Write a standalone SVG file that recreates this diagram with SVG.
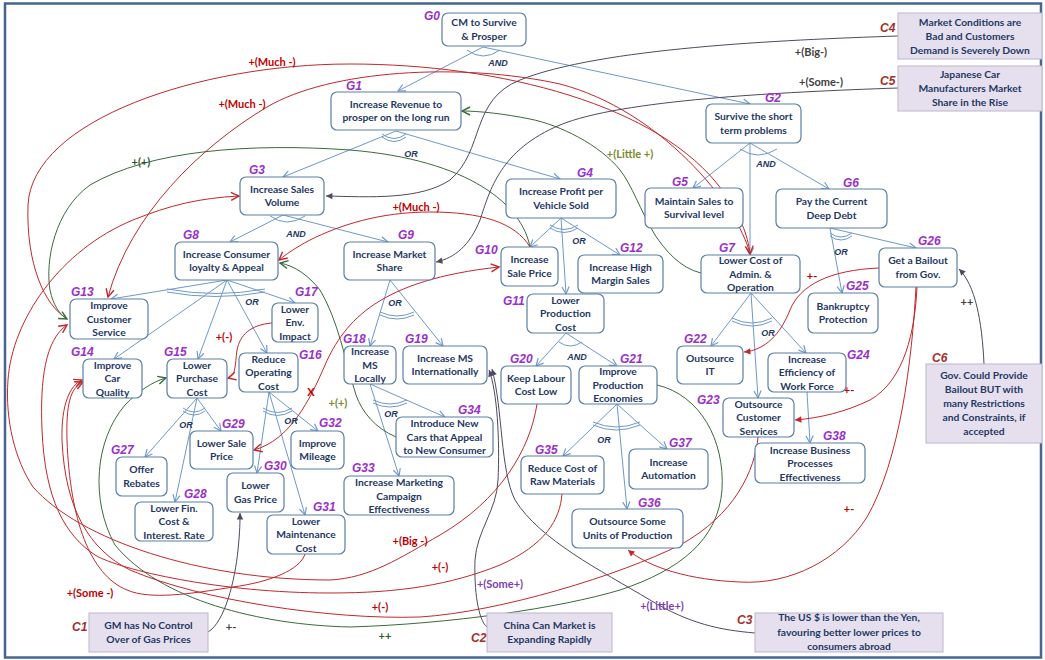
<svg xmlns="http://www.w3.org/2000/svg" width="1045" height="660" viewBox="0 0 1045 660">
<defs>
<style>
.box{fill:#fff;stroke:#5b7fa6;stroke-width:1.2}
.ctx{fill:#e6e0ee;stroke:#bdb6cb;stroke-width:1}
.t{font-family:Lato,"Liberation Sans",sans-serif;font-weight:bold;font-size:10.3px;fill:#1f3864;text-anchor:middle}
.gid{font-family:"Liberation Sans",sans-serif;font-weight:bold;font-style:italic;font-size:12px;fill:#9b2fc9}
.cid{font-family:"Liberation Sans",sans-serif;font-weight:bold;font-style:italic;font-size:12px;fill:#a3302b}
.op{font-family:"Liberation Sans",sans-serif;font-weight:bold;font-style:italic;font-size:9px;fill:#1f3864;text-anchor:middle}
.ref{fill:none;stroke:#6f98c9;stroke-width:1}
.red{fill:none;stroke:#c2282b;stroke-width:1}
.grn{fill:none;stroke:#3b6a3b;stroke-width:1}
.gry{fill:none;stroke:#4e4a5f;stroke-width:1}
.lb{font-family:Lato,"Liberation Sans",sans-serif;font-weight:bold;font-size:11px;text-anchor:middle}
.lr{fill:#c00000}
.lg{fill:#2f5a2f}
.lo{fill:#7a8a2a}
.lk{fill:#404040}
.lp{fill:#7b3fb0}
</style>
<marker id="aB" viewBox="0 0 10 10" refX="9" refY="5" markerWidth="9" markerHeight="9" markerUnits="userSpaceOnUse" orient="auto"><path d="M1,1 L9,5 L1,9" fill="none" stroke="#6f98c9" stroke-width="1.3"/></marker>
<marker id="aR" viewBox="0 0 10 10" refX="9" refY="5" markerWidth="10" markerHeight="10" markerUnits="userSpaceOnUse" orient="auto"><path d="M1,1 L9,5 L1,9" fill="none" stroke="#c2282b" stroke-width="1.4"/></marker>
<marker id="aRs" viewBox="0 0 10 10" refX="1" refY="5" markerWidth="10" markerHeight="10" markerUnits="userSpaceOnUse" orient="auto"><path d="M9,1 L1,5 L9,9" fill="none" stroke="#c2282b" stroke-width="1.4"/></marker>
<marker id="aRf" viewBox="0 0 10 10" refX="9" refY="5" markerWidth="8" markerHeight="8" markerUnits="userSpaceOnUse" orient="auto"><path d="M1,1 L9,5 L1,9 Z" fill="#c2282b"/></marker>
<marker id="aG" viewBox="0 0 10 10" refX="9" refY="5" markerWidth="10" markerHeight="10" markerUnits="userSpaceOnUse" orient="auto"><path d="M1,1 L9,5 L1,9" fill="none" stroke="#3b6a3b" stroke-width="1.4"/></marker>
<marker id="aK" viewBox="0 0 10 10" refX="9" refY="5" markerWidth="8" markerHeight="8" markerUnits="userSpaceOnUse" orient="auto"><path d="M1,1 L9,5 L1,9 Z" fill="#4e4a5f"/></marker>
</defs>
<rect x="0" y="0" width="1045" height="660" fill="#fff"/>
<rect x="5" y="3.5" width="1036" height="654" fill="none" stroke="#466690" stroke-width="2.5"/>

<!-- decomposition links -->
<g id="refinements" class="ref">
<path d="M483,47 L398,91" marker-end="url(#aB)"/>
<path d="M483,47 L750,104" marker-end="url(#aB)"/>
<path d="M467,50 Q483,62 500,50"/>
<path d="M396,131 L283,177" marker-end="url(#aB)"/>
<path d="M396,131 L560,179" marker-end="url(#aB)"/>
<path d="M382,134 Q394,143 406,134"/><path d="M382,137 Q394,146 406,137"/>
<path d="M750,143 L693,188" marker-end="url(#aB)"/>
<path d="M750,143 L829,189" marker-end="url(#aB)"/>
<path d="M750,143 L750,255" marker-end="url(#aB)"/>
<path d="M740,149 Q758,161 777,149"/>
<path d="M283,215 L230,242" marker-end="url(#aB)"/>
<path d="M283,215 L388,242" marker-end="url(#aB)"/>
<path d="M270,216 Q287,228 305,216"/>
<path d="M561,218 L530,247" marker-end="url(#aB)"/>
<path d="M561,218 L566,294" marker-end="url(#aB)"/>
<path d="M561,218 L620,255" marker-end="url(#aB)"/>
<path d="M550,225 Q564,234 578,225"/><path d="M550,228 Q564,237 578,228"/>
<path d="M830,228 L842,293" marker-end="url(#aB)"/>
<path d="M830,228 L916,248" marker-end="url(#aB)"/>
<path d="M830,233 Q841,241 852,233"/><path d="M830,236 Q841,244 852,236"/>
<path d="M751,293 L711,346" marker-end="url(#aB)"/>
<path d="M751,293 L758,398" marker-end="url(#aB)"/>
<path d="M751,293 L806,353" marker-end="url(#aB)"/>
<path d="M732,318 Q752,328 772,318"/><path d="M732,321 Q752,331 772,321"/>
<path d="M807,392 L810,443" marker-end="url(#aB)"/>
<path d="M227,280 L111,299" marker-end="url(#aB)"/>
<path d="M227,280 L295,303" marker-end="url(#aB)"/>
<path d="M227,280 L114,359" marker-end="url(#aB)"/>
<path d="M227,280 L198,359" marker-end="url(#aB)"/>
<path d="M227,280 L267,353" marker-end="url(#aB)"/>
<path d="M167,289 Q216,298 265,289"/><path d="M167,292 Q216,301 265,292"/>
<path d="M390,280 L370,346" marker-end="url(#aB)"/>
<path d="M390,280 L443,346" marker-end="url(#aB)"/>
<path d="M380,312 Q397,320 414,312"/><path d="M380,315 Q397,323 414,315"/>
<path d="M566,333 L536,366" marker-end="url(#aB)"/>
<path d="M566,333 L617,366" marker-end="url(#aB)"/>
<path d="M559,342 Q570,350 582,342"/>
<path d="M197,398 L145,457" marker-end="url(#aB)"/>
<path d="M197,398 L175,502" marker-end="url(#aB)"/>
<path d="M197,398 L221,431" marker-end="url(#aB)"/>
<path d="M183,408 Q194,416 205,408"/><path d="M183,411 Q194,419 205,411"/>
<path d="M269,392 L257,473" marker-end="url(#aB)"/>
<path d="M269,392 L305,515" marker-end="url(#aB)"/>
<path d="M269,392 L318,431" marker-end="url(#aB)"/>
<path d="M263,408 Q277,417 292,408"/><path d="M263,411 Q277,420 292,411"/>
<path d="M370,384 L445,417" marker-end="url(#aB)"/>
<path d="M370,384 L399,476" marker-end="url(#aB)"/>
<path d="M373,400 Q390,408 407,400"/><path d="M373,403 Q390,411 407,403"/>
<path d="M617,404 L563,456" marker-end="url(#aB)"/>
<path d="M617,404 L627,509" marker-end="url(#aB)"/>
<path d="M617,404 L667,449" marker-end="url(#aB)"/>
<path d="M593,422 Q616,432 640,422"/><path d="M593,425 Q616,435 640,425"/>
</g>

<!-- contribution links -->
<g id="contributions">
<path class="red" d="M66,318 C45,305 26,265 28,205 C32,120 200,64 350,64 C500,64 660,105 722,190 C740,215 748,235 750,254" marker-end="url(#aR)"/>
<path class="red" d="M750,254 C738,205 660,110 560,84 C460,62 330,70 267,107 C200,147 130,215 108,297" marker-end="url(#aR)"/>
<path class="grn" d="M530,247 C522,205 470,160 350,150 C250,143 150,150 90,185 C55,210 45,260 50,290 C53,305 60,315 67,319" marker-end="url(#aG)"/>
<path class="red" d="M530,247 C515,222 480,212 430,212 C380,212 340,225 310,240 C295,248 285,255 279,260" marker-end="url(#aR)"/>
<path class="grn" d="M701,273 C680,268 665,250 655,235 C640,210 632,185 620,170 C600,145 560,125 530,119 C505,114 480,111 462,111" marker-end="url(#aG)"/>
<path class="gry" d="M898,36 C780,40 600,48 520,80 C470,100 485,150 450,180 C420,200 370,197 326,196" marker-end="url(#aK)"/>
<path class="gry" d="M898,88 C780,92 620,100 560,125 C500,150 490,190 480,220 C470,245 455,258 436,262" marker-end="url(#aK)"/>
<path class="grn" d="M396,437 C375,428 362,412 356,395 C345,360 338,320 320,290 C308,275 295,266 280,263" marker-end="url(#aG)"/>
<path class="red" d="M272,323 C250,325 240,335 237,350 C235,365 236,376 228,378" marker-end="url(#aR)"/>
<path class="red" d="M254,450 C290,440 310,400 325,365 C345,320 380,280 499,267" marker-start="url(#aRs)" marker-end="url(#aR)"/>
<path class="grn" d="M657,385 C700,395 725,440 722,490 C718,540 680,570 620,590 C560,608 450,624 350,627 C260,625 160,600 115,545 C90,500 95,440 125,405 C140,390 152,382 166,378" marker-end="url(#aG)"/>
<path class="gry" d="M487,627 C478,620 474,590 475,560 C477,530 497,510 498,480 C500,440 497,390 489,370" marker-end="url(#aK)"/>
<path class="gry" d="M755,633 C720,630 690,624 650,600 C600,570 540,540 515,500 C500,470 503,410 492,369" marker-end="url(#aK)"/>
<path class="gry" d="M208,632 C225,622 235,580 238,550 C240,530 240,522 240,513" marker-end="url(#aK)"/>
<path class="gry" d="M984,364 C982,320 975,285 959,269" marker-end="url(#aK)"/>
<path class="red" d="M879,268 C830,270 800,285 790,310 C780,335 765,350 744,352" marker-end="url(#aRf)"/>
<path class="red" d="M917,287 C915,330 905,380 870,400 C845,412 820,418 795,420" marker-end="url(#aRf)"/>
<path class="red" d="M916,287 C912,360 900,460 867,517 C840,560 790,585 740,582 C690,580 650,568 628,550" marker-end="url(#aRf)"/>
<path class="red" d="M758,437 C755,470 735,515 680,545 C620,575 500,612 420,617 C330,620 200,600 130,570 C90,550 65,510 62,440 C61,405 70,385 82,380" marker-end="url(#aR)"/>
<path class="red" d="M562,494 C560,520 545,545 500,565 C450,585 400,593 330,593 C220,593 120,570 95,555 C65,535 45,500 42,430 C40,380 45,340 67,325" marker-end="url(#aR)"/>
<path class="red" d="M537,404 C530,450 500,500 440,535 C400,558 370,578 330,580 C200,580 80,540 33,487 C15,460 5,420 8,380 C12,320 60,250 133,220 C170,205 200,198 239,196" marker-end="url(#aR)"/>
<path class="red" d="M305,554 C300,570 270,582 233,587 C190,594 150,600 127,590 C90,575 70,520 67,440 C66,405 70,388 83,382" marker-end="url(#aR)"/>
</g>

<!-- link labels -->
<g id="link-labels" class="lb">
<text class="op" x="498" y="66">AND</text>
<text class="op" x="411" y="157">OR</text>
<text class="op" x="766" y="167">AND</text>
<text class="op" x="296" y="237">AND</text>
<text class="op" x="579" y="244">OR</text>
<text class="op" x="841" y="255">OR</text>
<text class="op" x="768" y="336">OR</text>
<text class="op" x="252" y="305">OR</text>
<text class="op" x="395" y="306">OR</text>
<text class="op" x="577" y="360">AND</text>
<text class="op" x="186" y="428">OR</text>
<text class="op" x="291" y="424">OR</text>
<text class="op" x="391" y="417">OR</text>
<text class="op" x="604" y="443">OR</text>
<text class="lr" x="272" y="66">+(Much -)</text>
<text class="lr" x="242" y="108">+(Much -)</text>
<text class="lg" x="141" y="166">+(+)</text>
<text class="lr" x="416" y="211">+(Much -)</text>
<text class="lo" x="630" y="158">+(Little +)</text>
<text class="lk" x="811" y="56">+(Big-)</text>
<text class="lk" x="821" y="86">+(Some-)</text>
<text class="lo" x="338" y="407">+(+)</text>
<text class="lr" x="224" y="341">+(-)</text>
<text class="lr" x="311" y="396">X</text>
<text class="lr" x="812" y="280">+-</text>
<text class="lr" x="849" y="394">+-</text>
<text class="lr" x="849" y="513">+-</text>
<text class="lk" x="967" y="306">++</text>
<text class="lk" x="231" y="631">+-</text>
<text class="lr" x="90" y="597">+(Some -)</text>
<text class="lr" x="410" y="545">+(Big -)</text>
<text class="lr" x="440" y="571">+(-)</text>
<text class="lr" x="380" y="611">+(-)</text>
<text class="lg" x="385" y="640">++</text>
<text class="lp" x="500" y="588">+(Some+)</text>
<text class="lp" x="662" y="610">+(Little+)</text>
</g>

<!-- goals -->
<g id="G0"><rect class="box" x="442" y="13" width="84" height="33" rx="6"/><text class="t"><tspan x="484" y="26.3">CM to Survive</tspan><tspan x="484" y="39.8">&amp; Prosper</tspan></text><text class="gid" x="424" y="20">G0</text></g>
<g id="G1"><rect class="box" x="331" y="92" width="130" height="38" rx="6"/><text class="t"><tspan x="396" y="107.8">Increase Revenue to</tspan><tspan x="396" y="121.3">prosper on the long run</tspan></text><text class="gid" x="346" y="90">G1</text></g>
<g id="G2"><rect class="box" x="706" y="104" width="95" height="39" rx="6"/><text class="t"><tspan x="753.5" y="120.3">Survive the short</tspan><tspan x="753.5" y="133.8">term problems</tspan></text><text class="gid" x="765" y="102">G2</text></g>
<g id="G3"><rect class="box" x="240" y="177" width="84" height="38" rx="6"/><text class="t"><tspan x="282" y="192.8">Increase  Sales</tspan><tspan x="282" y="206.3">Volume</tspan></text><text class="gid" x="249" y="174">G3</text></g>
<g id="G4"><rect class="box" x="506" y="179" width="110" height="39" rx="6"/><text class="t"><tspan x="561" y="195.3">Increase Profit per</tspan><tspan x="561" y="208.8">Vehicle Sold</tspan></text><text class="gid" x="577" y="177">G4</text></g>
<g id="G5"><rect class="box" x="645" y="188" width="98" height="40" rx="6"/><text class="t"><tspan x="694" y="204.8">Maintain Sales to</tspan><tspan x="694" y="218.3">Survival level</tspan></text><text class="gid" x="672" y="186">G5</text></g>
<g id="G6"><rect class="box" x="776" y="189" width="111" height="39" rx="6"/><text class="t"><tspan x="831.5" y="205.3">Pay the Current</tspan><tspan x="831.5" y="218.8">Deep Debt</tspan></text><text class="gid" x="843" y="187">G6</text></g>
<g id="G7"><rect class="box" x="701" y="255" width="99" height="38" rx="6"/><text class="t"><tspan x="750.5" y="264">Lower Cost of</tspan><tspan x="750.5" y="277.5">Admin. &amp;</tspan><tspan x="750.5" y="291">Operation</tspan></text><text class="gid" x="719" y="252">G7</text></g>
<g id="G8"><rect class="box" x="175" y="242" width="103" height="38" rx="6"/><text class="t"><tspan x="226.5" y="257.8">Increase Consumer</tspan><tspan x="226.5" y="271.3">loyalty &amp; Appeal</tspan></text><text class="gid" x="183" y="239">G8</text></g>
<g id="G9"><rect class="box" x="344" y="242" width="91" height="38" rx="6"/><text class="t"><tspan x="389.5" y="257.8">Increase Market</tspan><tspan x="389.5" y="271.3">Share</tspan></text><text class="gid" x="398" y="239">G9</text></g>
<g id="G10"><rect class="box" x="501" y="247" width="57" height="39" rx="6"/><text class="t"><tspan x="529.5" y="263.3">Increase</tspan><tspan x="529.5" y="276.8">Sale Price</tspan></text><text class="gid" x="475" y="254">G10</text></g>
<g id="G11"><rect class="box" x="527" y="294" width="77" height="39" rx="6"/><text class="t"><tspan x="565.5" y="303.5">Lower</tspan><tspan x="565.5" y="317">Production</tspan><tspan x="565.5" y="330.5">Cost</tspan></text><text class="gid" x="503" y="305">G11</text></g>
<g id="G12"><rect class="box" x="578" y="255" width="85" height="38" rx="6"/><text class="t"><tspan x="620.5" y="270.8">Increase High</tspan><tspan x="620.5" y="284.3">Margin Sales</tspan></text><text class="gid" x="620" y="252">G12</text></g>
<g id="G13"><rect class="box" x="70" y="299" width="78" height="40" rx="6"/><text class="t"><tspan x="109" y="309">Improve</tspan><tspan x="109" y="322.5">Customer</tspan><tspan x="109" y="336">Service</tspan></text><text class="gid" x="71" y="296">G13</text></g>
<g id="G14"><rect class="box" x="83" y="359" width="59" height="39" rx="6"/><text class="t"><tspan x="112.5" y="368.5">Improve</tspan><tspan x="112.5" y="382">Car</tspan><tspan x="112.5" y="395.5">Quality</tspan></text><text class="gid" x="71" y="356">G14</text></g>
<g id="G15"><rect class="box" x="167" y="359" width="60" height="39" rx="6"/><text class="t"><tspan x="197" y="368.5">Lower</tspan><tspan x="197" y="382">Purchase</tspan><tspan x="197" y="395.5">Cost</tspan></text><text class="gid" x="164" y="356">G15</text></g>
<g id="G16"><rect class="box" x="239" y="353" width="59" height="39" rx="6"/><text class="t"><tspan x="268.5" y="362.5">Reduce</tspan><tspan x="268.5" y="376">Operating</tspan><tspan x="268.5" y="389.5">Cost</tspan></text><text class="gid" x="299" y="359">G16</text></g>
<g id="G17"><rect class="box" x="272" y="303" width="46" height="39" rx="6"/><text class="t"><tspan x="295" y="312.5">Lower</tspan><tspan x="295" y="326">Env.</tspan><tspan x="295" y="339.5">Impact</tspan></text><text class="gid" x="295" y="296">G17</text></g>
<g id="G18"><rect class="box" x="344" y="346" width="52" height="38" rx="6"/><text class="t"><tspan x="370" y="355">Increase</tspan><tspan x="370" y="368.5">MS</tspan><tspan x="370" y="382">Locally</tspan></text><text class="gid" x="343" y="343">G18</text></g>
<g id="G19"><rect class="box" x="403" y="346" width="84" height="38" rx="6"/><text class="t"><tspan x="445" y="361.8">Increase MS</tspan><tspan x="445" y="375.3">Internationally</tspan></text><text class="gid" x="405" y="343">G19</text></g>
<g id="G20"><rect class="box" x="501" y="366" width="70" height="38" rx="6"/><text class="t"><tspan x="536" y="381.8">Keep Labour</tspan><tspan x="536" y="395.3">Cost Low</tspan></text><text class="gid" x="510" y="363">G20</text></g>
<g id="G21"><rect class="box" x="579" y="366" width="78" height="38" rx="6"/><text class="t"><tspan x="618" y="375">Improve</tspan><tspan x="618" y="388.5">Production</tspan><tspan x="618" y="402">Economies</tspan></text><text class="gid" x="620" y="363">G21</text></g>
<g id="G22"><rect class="box" x="677" y="346" width="66" height="38" rx="6"/><text class="t"><tspan x="710" y="361.8">Outsource</tspan><tspan x="710" y="375.3">IT</tspan></text><text class="gid" x="684" y="343">G22</text></g>
<g id="G23"><rect class="box" x="723" y="398" width="71" height="39" rx="6"/><text class="t"><tspan x="758.5" y="407.5">Outsource</tspan><tspan x="758.5" y="421">Customer</tspan><tspan x="758.5" y="434.5">Services</tspan></text><text class="gid" x="697" y="404">G23</text></g>
<g id="G24"><rect class="box" x="768" y="353" width="78" height="39" rx="6"/><text class="t"><tspan x="807" y="362.5">Increase</tspan><tspan x="807" y="376">Efficiency  of</tspan><tspan x="807" y="389.5">Work Force</tspan></text><text class="gid" x="847" y="359">G24</text></g>
<g id="G25"><rect class="box" x="808" y="293" width="70" height="40" rx="6"/><text class="t"><tspan x="843" y="309.8">Bankruptcy</tspan><tspan x="843" y="323.3">Protection</tspan></text><text class="gid" x="846" y="290">G25</text></g>
<g id="G26"><rect class="box" x="879" y="248" width="78" height="39" rx="6"/><text class="t"><tspan x="918" y="264.3">Get a Bailout</tspan><tspan x="918" y="277.8">from Gov.</tspan></text><text class="gid" x="918" y="245">G26</text></g>
<g id="G27"><rect class="box" x="116" y="457" width="51" height="39" rx="6"/><text class="t"><tspan x="141.5" y="473.3">Offer</tspan><tspan x="141.5" y="486.8">Rebates</tspan></text><text class="gid" x="111" y="454">G27</text></g>
<g id="G28"><rect class="box" x="135" y="502" width="78" height="39" rx="6"/><text class="t"><tspan x="174" y="511.5">Lower Fin.</tspan><tspan x="174" y="525">Cost &amp;</tspan><tspan x="174" y="538.5">Interest. Rate</tspan></text><text class="gid" x="184" y="498">G28</text></g>
<g id="G29"><rect class="box" x="190" y="431" width="63" height="38" rx="6"/><text class="t"><tspan x="221.5" y="446.8">Lower Sale</tspan><tspan x="221.5" y="460.3">Price</tspan></text><text class="gid" x="222" y="428">G29</text></g>
<g id="G30"><rect class="box" x="227" y="473" width="57" height="39" rx="6"/><text class="t"><tspan x="255.5" y="489.3">Lower</tspan><tspan x="255.5" y="502.8">Gas Price</tspan></text><text class="gid" x="264" y="470">G30</text></g>
<g id="G31"><rect class="box" x="267" y="515" width="78" height="39" rx="6"/><text class="t"><tspan x="306" y="524.5">Lower</tspan><tspan x="306" y="538">Maintenance</tspan><tspan x="306" y="551.5">Cost</tspan></text><text class="gid" x="313" y="511">G31</text></g>
<g id="G32"><rect class="box" x="291" y="431" width="53" height="38" rx="6"/><text class="t"><tspan x="317.5" y="446.8">Improve</tspan><tspan x="317.5" y="460.3">Mileage</tspan></text><text class="gid" x="319" y="427">G32</text></g>
<g id="G33"><rect class="box" x="344" y="476" width="110" height="39" rx="6"/><text class="t"><tspan x="399" y="486">Increase Marketing</tspan><tspan x="399" y="499.5">Campaign</tspan><tspan x="399" y="513">Effectiveness</tspan></text><text class="gid" x="352" y="472">G33</text></g>
<g id="G34"><rect class="box" x="396" y="417" width="97" height="40" rx="6"/><text class="t"><tspan x="444.5" y="427">Introduce New</tspan><tspan x="444.5" y="440.5">Cars that Appeal</tspan><tspan x="444.5" y="454">to New Consumer</tspan></text><text class="gid" x="458" y="414">G34</text></g>
<g id="G35"><rect class="box" x="521" y="456" width="83" height="38" rx="6"/><text class="t"><tspan x="562.5" y="471.8">Reduce Cost of</tspan><tspan x="562.5" y="485.3">Raw Materials</tspan></text><text class="gid" x="535" y="454">G35</text></g>
<g id="G36"><rect class="box" x="572" y="509" width="111" height="39" rx="6"/><text class="t"><tspan x="627.5" y="525.3">Outsource Some</tspan><tspan x="627.5" y="538.8">Units of Production</tspan></text><text class="gid" x="638" y="507">G36</text></g>
<g id="G37"><rect class="box" x="629" y="449" width="79" height="40" rx="6"/><text class="t"><tspan x="668.5" y="465.8">Increase</tspan><tspan x="668.5" y="479.3">Automation</tspan></text><text class="gid" x="669" y="447">G37</text></g>
<g id="G38"><rect class="box" x="755" y="443" width="110" height="40" rx="6"/><text class="t"><tspan x="810" y="453.5">Increase Business</tspan><tspan x="810" y="467">Processes</tspan><tspan x="810" y="480.5">Effectiveness</tspan></text><text class="gid" x="823" y="440">G38</text></g>

<!-- context conditions -->
<g id="C1"><rect class="ctx" x="89" y="613" width="119" height="39"/><text class="t"><tspan x="148.5" y="629">GM has No Control</tspan><tspan x="148.5" y="643">Over of Gas Prices</tspan></text><text class="cid" x="72" y="631">C1</text></g>
<g id="C2"><rect class="ctx" x="487" y="613" width="125" height="39"/><text class="t"><tspan x="549.5" y="629">China Can Market is</tspan><tspan x="549.5" y="643">Expanding Rapidly</tspan></text><text class="cid" x="471" y="642">C2</text></g>
<g id="C3"><rect class="ctx" x="755" y="613" width="188" height="39"/><text class="t"><tspan x="849" y="621">The US $ is lower than the Yen,</tspan><tspan x="849" y="635.5">favouring better lower prices to</tspan><tspan x="849" y="650">consumers abroad</tspan></text><text class="cid" x="737" y="624">C3</text></g>
<g id="C4"><rect class="ctx" x="898" y="13" width="144" height="46"/><text class="t"><tspan x="970" y="25.5">Market  Conditions are</tspan><tspan x="970" y="39.5">Bad and Customers</tspan><tspan x="970" y="53.5">Demand is Severely Down</tspan></text><text class="cid" x="880" y="32">C4</text></g>
<g id="C5"><rect class="ctx" x="898" y="66" width="144" height="45"/><text class="t"><tspan x="970" y="78">Japanese Car</tspan><tspan x="970" y="92">Manufacturers Market</tspan><tspan x="970" y="106">Share in the Rise</tspan></text><text class="cid" x="880" y="85">C5</text></g>
<g id="C6"><rect class="ctx" x="926" y="364" width="116" height="79"/><text class="t"><tspan x="984" y="379">Gov.  Could  Provide</tspan><tspan x="984" y="393">Bailout BUT with</tspan><tspan x="984" y="407">many  Restrictions</tspan><tspan x="984" y="421">and Constraints, if</tspan><tspan x="984" y="435">accepted</tspan></text><text class="cid" x="932" y="362">C6</text></g>
</svg>
